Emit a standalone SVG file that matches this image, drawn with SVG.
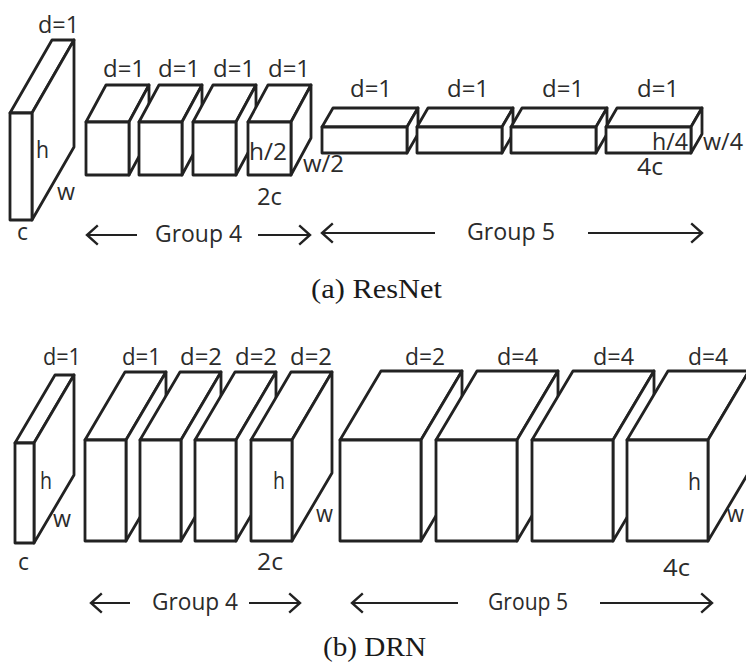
<svg xmlns="http://www.w3.org/2000/svg" width="746" height="664" viewBox="0 0 746 664">
<defs>
<style>
.bx polygon, .bx rect { fill:#fff; stroke:#222; stroke-width:2.8; stroke-linejoin:round; }
.lbl { font-family:"Open Sans","Liberation Sans",sans-serif; font-size:23px; fill:#2b2b2b; }
.grp { font-family:"Open Sans","Liberation Sans",sans-serif; font-size:23px; fill:#2b2b2b; }
.cap { font-family:"Liberation Serif","Times New Roman",serif; font-size:27px; fill:#1a1a1a; }
.arr { stroke:#222; stroke-width:2; fill:none; marker-end:url(#ah); }
</style>
<marker id="ah" markerUnits="userSpaceOnUse" markerWidth="24" markerHeight="24" viewBox="-12 -10 14 20" refX="0" refY="0" orient="auto" overflow="visible">
<path d="M-9,-8 L0,0 L-9,8" fill="none" stroke="#222" stroke-width="2"/>
</marker>
</defs>
<rect width="746" height="664" fill="#fff"/>

<!-- ResNet -->
<g id="resnet-input" class="bx">
<polygon points="10,113 52,40 74,40 32,113"/>
<polygon points="32,113 74,40 74,147 32,220"/>
<rect x="10" y="113" width="22" height="107"/>
<text class="lbl" x="38" y="33" textLength="41" lengthAdjust="spacingAndGlyphs">d=1</text>
<text class="lbl" x="36" y="158" textLength="13" lengthAdjust="spacingAndGlyphs">h</text>
<text class="lbl" x="57" y="200" textLength="18" lengthAdjust="spacingAndGlyphs">w</text>
<text class="lbl" x="17" y="240" textLength="11" lengthAdjust="spacingAndGlyphs">c</text>
</g>
<g id="resnet-g4-1" class="bx">
<polygon points="86,122 106,85 149,85 129,122"/>
<polygon points="129,122 149,85 149,138 129,175"/>
<rect x="86" y="122" width="43" height="53"/>
<text class="lbl" x="103" y="77" textLength="42" lengthAdjust="spacingAndGlyphs">d=1</text>
</g>
<g id="resnet-g4-2" class="bx">
<polygon points="139,122 159,85 202,85 182,122"/>
<polygon points="182,122 202,85 202,138 182,175"/>
<rect x="139" y="122" width="43" height="53"/>
<text class="lbl" x="158" y="77" textLength="42" lengthAdjust="spacingAndGlyphs">d=1</text>
</g>
<g id="resnet-g4-3" class="bx">
<polygon points="193,122 213,85 256,85 236,122"/>
<polygon points="236,122 256,85 256,138 236,175"/>
<rect x="193" y="122" width="43" height="53"/>
<text class="lbl" x="213" y="77" textLength="42" lengthAdjust="spacingAndGlyphs">d=1</text>
</g>
<g id="resnet-g4-4" class="bx">
<polygon points="248,122 268,85 311,85 291,122"/>
<polygon points="291,122 311,85 311,138 291,175"/>
<rect x="248" y="122" width="43" height="53"/>
<text class="lbl" x="268" y="77" textLength="42" lengthAdjust="spacingAndGlyphs">d=1</text>
<text class="lbl" x="249" y="160" textLength="38" lengthAdjust="spacingAndGlyphs">h/2</text>
<text class="lbl" x="303" y="172" textLength="41" lengthAdjust="spacingAndGlyphs">w/2</text>
<text class="lbl" x="257" y="205" textLength="25" lengthAdjust="spacingAndGlyphs">2c</text>
</g>
<g id="resnet-g5-1" class="bx">
<polygon points="322,127 333,108 418,108 407,127"/>
<polygon points="407,127 418,108 418,134 407,153"/>
<rect x="322" y="127" width="85" height="26"/>
<text class="lbl" x="350" y="97" textLength="42" lengthAdjust="spacingAndGlyphs">d=1</text>
</g>
<g id="resnet-g5-2" class="bx">
<polygon points="417,127 428,108 513,108 502,127"/>
<polygon points="502,127 513,108 513,134 502,153"/>
<rect x="417" y="127" width="85" height="26"/>
<text class="lbl" x="447" y="97" textLength="42" lengthAdjust="spacingAndGlyphs">d=1</text>
</g>
<g id="resnet-g5-3" class="bx">
<polygon points="511,127 522,108 607,108 596,127"/>
<polygon points="596,127 607,108 607,134 596,153"/>
<rect x="511" y="127" width="85" height="26"/>
<text class="lbl" x="542" y="97" textLength="42" lengthAdjust="spacingAndGlyphs">d=1</text>
</g>
<g id="resnet-g5-4" class="bx">
<polygon points="606,127 617,108 702,108 691,127"/>
<polygon points="691,127 702,108 702,134 691,153"/>
<rect x="606" y="127" width="85" height="26"/>
<text class="lbl" x="637" y="97" textLength="42" lengthAdjust="spacingAndGlyphs">d=1</text>
<text class="lbl" x="652" y="150" textLength="36" lengthAdjust="spacingAndGlyphs">h/4</text>
<text class="lbl" x="703" y="150" textLength="40" lengthAdjust="spacingAndGlyphs">w/4</text>
<text class="lbl" x="637" y="175" textLength="26" lengthAdjust="spacingAndGlyphs">4c</text>
</g>

<!-- DRN -->
<g id="drn-input" class="bx">
<polygon points="15,443 55,375 74,375 34,443"/>
<polygon points="34,443 74,375 74,475 34,543"/>
<rect x="15" y="443" width="19" height="100"/>
<text class="lbl" x="43" y="365" textLength="38" lengthAdjust="spacingAndGlyphs">d=1</text>
<text class="lbl" x="40" y="489" textLength="12" lengthAdjust="spacingAndGlyphs">h</text>
<text class="lbl" x="53" y="527" textLength="18" lengthAdjust="spacingAndGlyphs">w</text>
<text class="lbl" x="18" y="570" textLength="11" lengthAdjust="spacingAndGlyphs">c</text>
</g>
<g id="drn-g4-1" class="bx">
<polygon points="85,440 125,372 166,372 126,440"/>
<polygon points="126,440 166,372 166,473 126,541"/>
<rect x="85" y="440" width="41" height="101"/>
<text class="lbl" x="122" y="365" textLength="39" lengthAdjust="spacingAndGlyphs">d=1</text>
</g>
<g id="drn-g4-2" class="bx">
<polygon points="140,440 180,372 221,372 181,440"/>
<polygon points="181,440 221,372 221,473 181,541"/>
<rect x="140" y="440" width="41" height="101"/>
<text class="lbl" x="180" y="365" textLength="42" lengthAdjust="spacingAndGlyphs">d=2</text>
</g>
<g id="drn-g4-3" class="bx">
<polygon points="195,440 235,372 276,372 236,440"/>
<polygon points="236,440 276,372 276,473 236,541"/>
<rect x="195" y="440" width="41" height="101"/>
<text class="lbl" x="235" y="365" textLength="42" lengthAdjust="spacingAndGlyphs">d=2</text>
</g>
<g id="drn-g4-4" class="bx">
<polygon points="251,440 291,372 332,372 292,440"/>
<polygon points="292,440 332,372 332,473 292,541"/>
<rect x="251" y="440" width="41" height="101"/>
<text class="lbl" x="290" y="365" textLength="42" lengthAdjust="spacingAndGlyphs">d=2</text>
<text class="lbl" x="273" y="489" textLength="12" lengthAdjust="spacingAndGlyphs">h</text>
<text class="lbl" x="316" y="522" textLength="17" lengthAdjust="spacingAndGlyphs">w</text>
<text class="lbl" x="257" y="570" textLength="26" lengthAdjust="spacingAndGlyphs">2c</text>
</g>
<g id="drn-g5-1" class="bx">
<polygon points="340,440 381,371 462,371 421,440"/>
<polygon points="421,440 462,371 462,472 421,541"/>
<rect x="340" y="440" width="81" height="101"/>
<text class="lbl" x="405" y="365" textLength="40" lengthAdjust="spacingAndGlyphs">d=2</text>
</g>
<g id="drn-g5-2" class="bx">
<polygon points="436,440 477,371 558,371 517,440"/>
<polygon points="517,440 558,371 558,472 517,541"/>
<rect x="436" y="440" width="81" height="101"/>
<text class="lbl" x="497" y="365" textLength="41" lengthAdjust="spacingAndGlyphs">d=4</text>
</g>
<g id="drn-g5-3" class="bx">
<polygon points="532,440 573,371 654,371 613,440"/>
<polygon points="613,440 654,371 654,472 613,541"/>
<rect x="532" y="440" width="81" height="101"/>
<text class="lbl" x="593" y="365" textLength="41" lengthAdjust="spacingAndGlyphs">d=4</text>
</g>
<g id="drn-g5-4" class="bx">
<polygon points="627,440 668,371 749,371 708,440"/>
<polygon points="708,440 749,371 749,472 708,541"/>
<rect x="627" y="440" width="81" height="101"/>
<text class="lbl" x="688" y="365" textLength="40" lengthAdjust="spacingAndGlyphs">d=4</text>
<text class="lbl" x="688" y="490" textLength="13" lengthAdjust="spacingAndGlyphs">h</text>
<text class="lbl" x="727" y="522" textLength="17" lengthAdjust="spacingAndGlyphs">w</text>
<text class="lbl" x="663" y="576" textLength="27" lengthAdjust="spacingAndGlyphs">4c</text>
</g>

<!-- group arrows -->
<g id="connectors">
<line class="arr" x1="137" y1="235" x2="87" y2="235"/>
<line class="arr" x1="258" y1="235" x2="310" y2="235"/>
<line class="arr" x1="435" y1="233" x2="322" y2="233"/>
<line class="arr" x1="588" y1="233" x2="702" y2="233"/>
<line class="arr" x1="130" y1="603" x2="91" y2="603"/>
<line class="arr" x1="249" y1="603" x2="300" y2="603"/>
<line class="arr" x1="458" y1="603" x2="352" y2="603"/>
<line class="arr" x1="600" y1="603" x2="712" y2="603"/>
</g>
<g id="labels">
<text class="grp" x="155" y="242" textLength="87" lengthAdjust="spacingAndGlyphs">Group 4</text>
<text class="grp" x="467" y="240" textLength="88" lengthAdjust="spacingAndGlyphs">Group 5</text>
<text class="grp" x="152" y="610" textLength="86" lengthAdjust="spacingAndGlyphs">Group 4</text>
<text class="grp" x="488" y="610" textLength="80" lengthAdjust="spacingAndGlyphs">Group 5</text>
<text class="cap" x="311" y="298" textLength="131" lengthAdjust="spacingAndGlyphs">(a) ResNet</text>
<text class="cap" x="323" y="656" textLength="103" lengthAdjust="spacingAndGlyphs">(b) DRN</text>
</g>
</svg>
